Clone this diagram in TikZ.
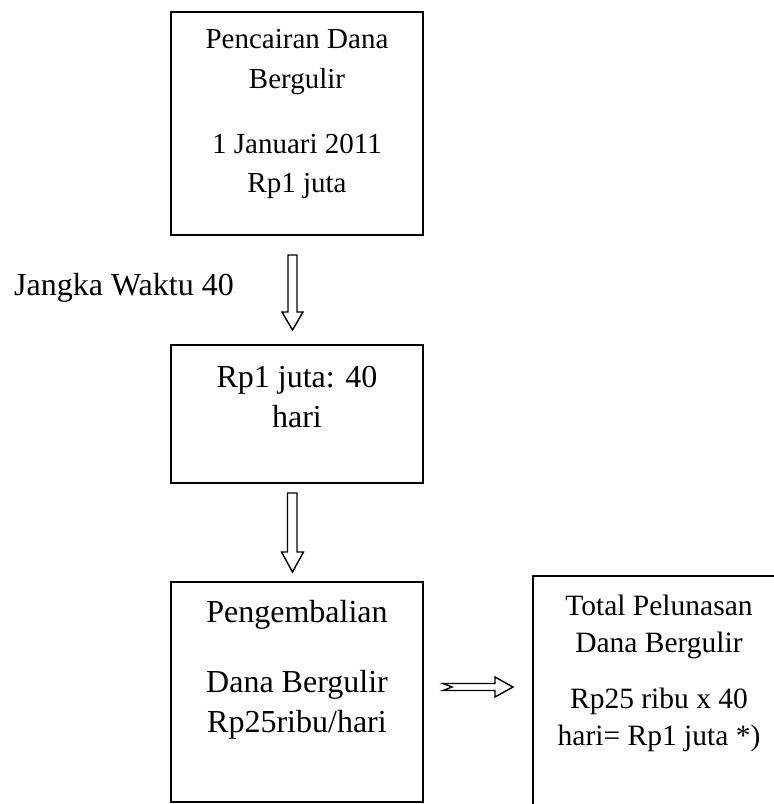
\documentclass[tikz,border=0pt]{standalone}
\usepackage{fontspec}
\setmainfont{Liberation Serif}
\begin{document}
\begin{tikzpicture}[x=1pt,y=-1pt,
  box/.style={draw=black,line width=1.7pt,minimum width=252pt,inner sep=0pt},
  txta/.style={anchor=base,inner sep=0pt,font=\fontsize{29}{35}\selectfont},
  txtb/.style={anchor=base,inner sep=0pt,font=\fontsize{32}{38}\selectfont},
  txts/.style={anchor=base,inner sep=0pt,font=\fontsize{29.5}{35}\selectfont},
  blockarrow/.style={draw=black,line width=1.4pt,fill=white,line join=miter}]
\useasboundingbox (0,0) rectangle (774,804);
\clip (0,0) rectangle (774,804);
% boxes
\node[box,minimum height=223pt] (b1) at (297,123.5) {};
\node[box,minimum height=138pt] (b2) at (297,414) {};
\node[box,minimum height=220pt] (b3) at (297,692) {};
\node[box,minimum height=260pt] (b4) at (659,706) {};
% texts box 1
\node[txta] (t11) at (297,48) {Pencairan Dana};
\node[txta] (t12) at (297,88) {Bergulir};
\node[txta] (t13) at (297,153) {1 Januari 2011};
\node[txta] (t14) at (297,192) {Rp1 juta};
% label
\node[txtb,anchor=base west] (lab) at (14,295) {Jangka Waktu 40};
% box 2
\node[txtb] (t21) at (297,387) {Rp1 juta: 40};
\node[txtb] (t22) at (297,427) {hari};
% box 3
\node[txtb] (t31) at (297,622) {Pengembalian};
\node[txtb] (t32) at (297,692) {Dana Bergulir};
\node[txtb] (t33) at (297,732) {Rp25ribu/hari};
% box 4
\node[txts] (t41) at (659,615) {Total Pelunasan};
\node[txts] (t42) at (659,652) {Dana Bergulir};
\node[txts] (t43) at (659,708) {Rp25 ribu x 40};
\node[txts] (t44) at (659,745) {hari= Rp1 juta *)};
% block arrows
\draw[blockarrow] (288,255) -- (297,255) -- (297,312) -- (303,312) -- (292.5,330) -- (282,312) -- (288,312) -- cycle;
\draw[blockarrow] (287.5,493) -- (297,493) -- (297,552) -- (303.5,552) -- (292.5,572) -- (281.5,552) -- (287.5,552) -- cycle;
\draw[blockarrow] (443,683.5) -- (495,683.5) -- (495,677) -- (513,687) -- (495,697) -- (495,690.5) -- (443,690.5) -- (452,687) -- cycle;
\end{tikzpicture}
\end{document}
